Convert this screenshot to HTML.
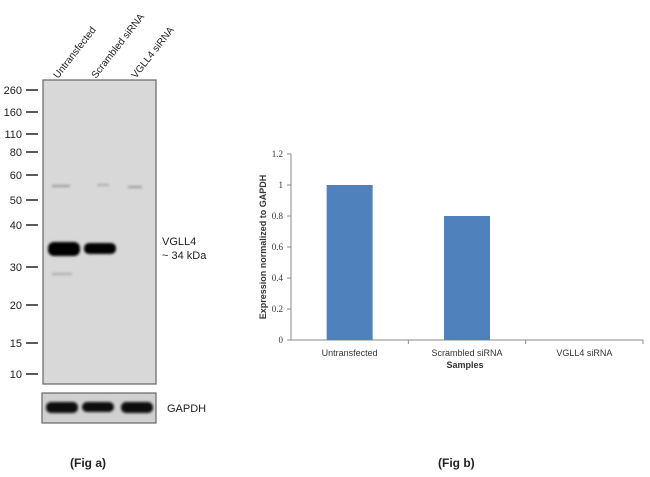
<!DOCTYPE html>
<html><head><meta charset="utf-8"><style>
body{margin:0;background:#fff;width:650px;height:477px;overflow:hidden;font-family:"Liberation Sans",sans-serif}
svg{display:block}
</style></head><body>
<svg width="650" height="477" xmlns="http://www.w3.org/2000/svg">
<defs><filter id="blur" x="-20%" y="-50%" width="140%" height="200%"><feGaussianBlur stdDeviation="1.2"/></filter></defs>
<g font-family="Liberation Sans, sans-serif" font-size="11" fill="#222">
  <rect x="43" y="80" width="113" height="304" fill="#d8d8d8" stroke="#666" stroke-width="1.2"/>
  <g id="markers"></g>
  <text transform="translate(58,79) rotate(-52)" font-size="10">Untransfected</text>
  <text transform="translate(96,79) rotate(-52)" font-size="10">Scrambled siRNA</text>
  <text transform="translate(136,79) rotate(-52)" font-size="10">VGLL4 siRNA</text>
  <g filter="url(#blur)">
    <rect x="48" y="242" width="32" height="14" rx="6" fill="#000"/>
    <rect x="84" y="243" width="32" height="11" rx="5" fill="#000"/>
    <rect x="52" y="185" width="18" height="2" fill="#999"/>
    <rect x="97" y="184" width="12" height="2" fill="#aaa"/>
    <rect x="128" y="186" width="14" height="2" fill="#999"/>
    <rect x="52" y="273" width="20" height="2" fill="#aaa"/>
  </g>
  <text x="162" y="245">VGLL4</text>
  <text x="162" y="259">~ 34 kDa</text>
  <rect x="42" y="393" width="114" height="30" fill="#d0d0d0" stroke="#666" stroke-width="1.2"/>
  <g filter="url(#blur)">
    <rect x="46" y="402" width="32" height="11" rx="5" fill="#111"/>
    <rect x="82" y="402" width="32" height="10" rx="5" fill="#111"/>
    <rect x="121" y="402" width="32" height="11" rx="5" fill="#111"/>
  </g>
  <text x="167" y="412">GAPDH</text>
  <text x="70" y="467" font-weight="bold" font-size="12">(Fig a)</text>
</g>
<g id="chart" font-family="Liberation Serif, serif" font-size="9" fill="#333"></g>
<text x="438" y="467" font-family="Liberation Sans, sans-serif" font-weight="bold" font-size="12" fill="#222">(Fig b)</text>
</svg>
<script>
const categories=["Untransfected","Scrambled siRNA","VGLL4 siRNA"];
const values=[1,0.8,0];
const yTicks=[0,0.2,0.4,0.6,0.8,1,1.2];
const mwLabels=["260","160","110","80","60","50","40","30","20","15","10"];
const mwY=[90,112,134,152,175,200,225,267,305,343,374];
const NS="http://www.w3.org/2000/svg";
function mk(t,a,p){const e=document.createElementNS(NS,t);for(const k in a)e.setAttribute(k,a[k]);p.appendChild(e);return e;}
const mg=document.getElementById('markers');
mwLabels.forEach((l,i)=>{
  const t=mk('text',{x:22,y:mwY[i]+4,'text-anchor':'end'},mg);t.textContent=l;
  
  
  const ln=mk('line',{x1:26,x2:38,y1:mwY[i],y2:mwY[i],stroke:'#222','stroke-width':1.5},mg);
  
  
});
const g=document.getElementById('chart');
const x0=291,x1=643,y0=340,yTop=154,yMax=1.2;
const sy=v=>y0-(v/yMax)*(y0-yTop);
const bw=(x1-x0)/categories.length;
const ax=mk('line',{x1:x0,x2:x0,y1:yTop,y2:y0,stroke:'#888'},g);


const bx=mk('line',{x1:x0,x2:x1,y1:y0,y2:y0,stroke:'#888'},g);


yTicks.forEach(v=>{
  mk('line',{x1:x0-4,x2:x0,y1:sy(v),y2:sy(v),stroke:'#888'},g);
  const t=mk('text',{x:x0-8,y:sy(v)+3,'text-anchor':'end'},g);t.textContent=v;
  
  
});
categories.forEach((c,i)=>{
  mk('line',{x1:x0+bw*(i+1),x2:x0+bw*(i+1),y1:y0,y2:y0+4,stroke:'#888'},g);
  const cx=x0+bw*(i+0.5);
  const r=mk('rect',{x:cx-23,y:sy(values[i]),width:46,height:y0-sy(values[i]),fill:'#4f81bd'},g);
  
  
  const t=mk('text',{x:cx,y:356,'text-anchor':'middle','font-family':'Liberation Sans, sans-serif'},g);t.textContent=c;
  
  
});
const xt=mk('text',{x:(x0+x1)/2-2,y:368,'text-anchor':'middle','font-family':'Liberation Sans, sans-serif','font-weight':'bold'},g);xt.textContent='Samples';


const yt=mk('text',{transform:'translate(266,247) rotate(-90)','text-anchor':'middle','font-family':'Liberation Sans, sans-serif','font-weight':'bold'},g);yt.textContent='Expression  normalized to GAPDH';


</script>
</body></html>
